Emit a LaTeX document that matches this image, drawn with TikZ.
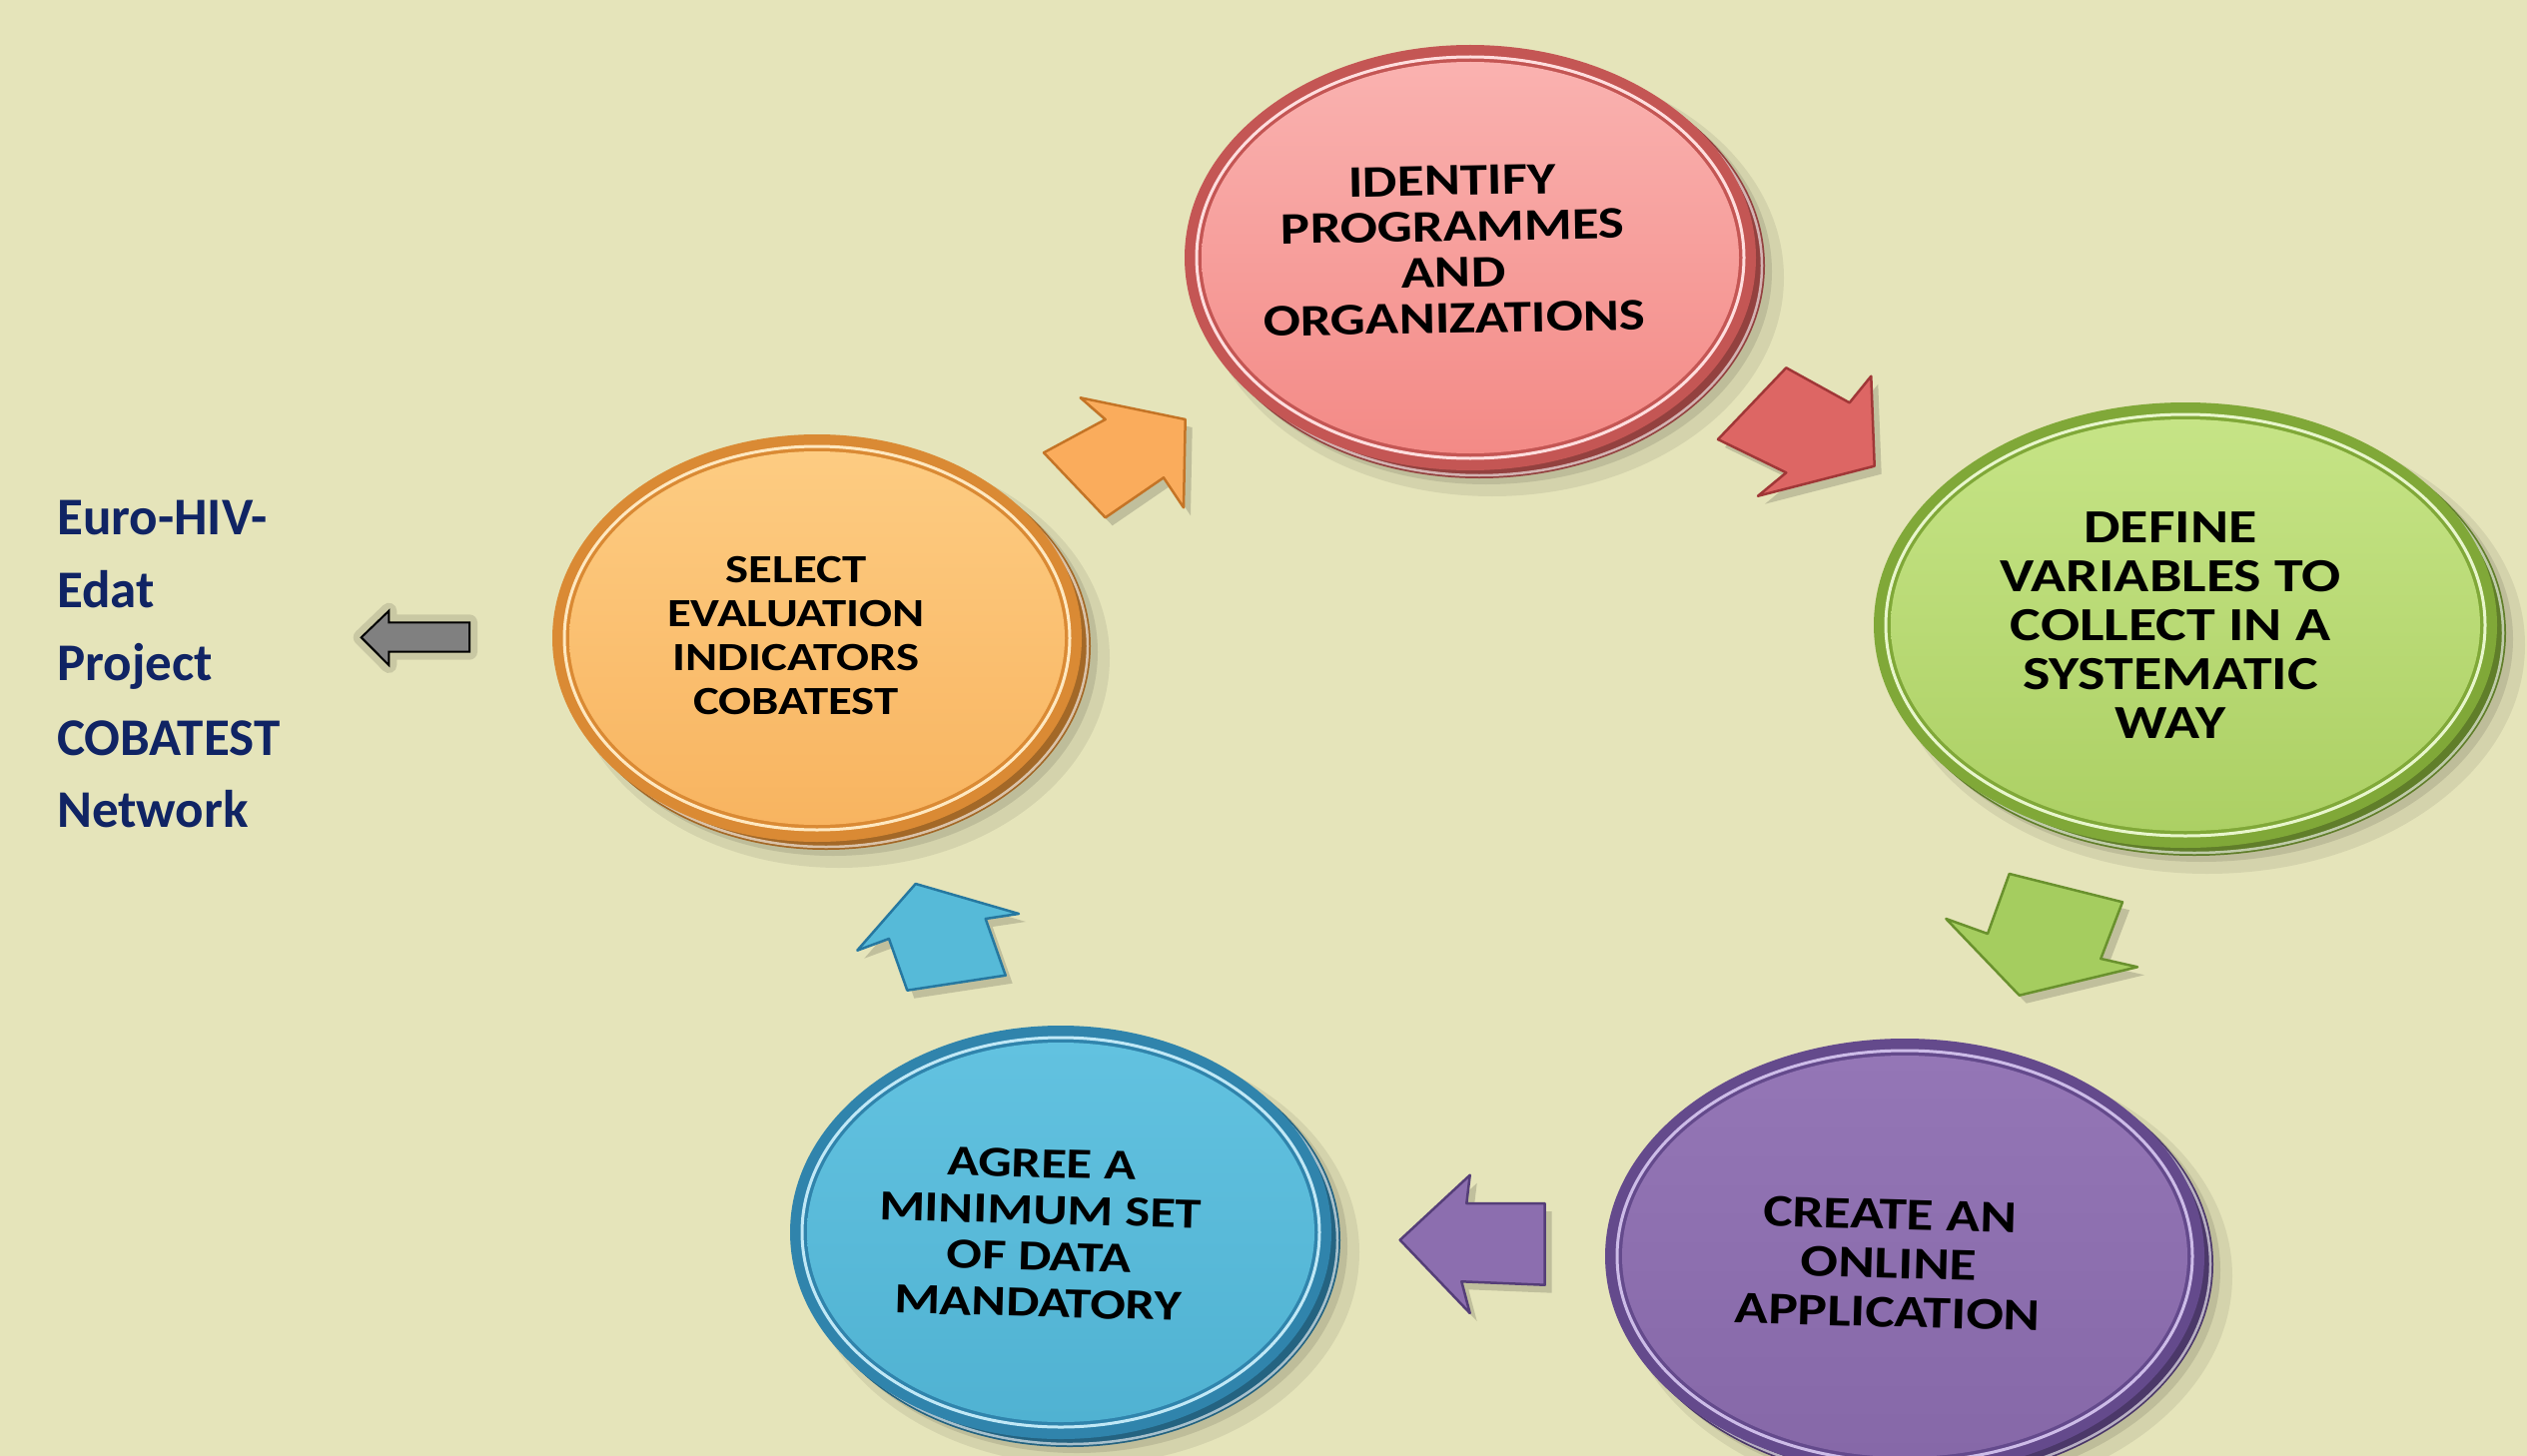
\documentclass[tikz,border=0pt]{standalone}
\usepackage{fontspec}
\setmainfont{Carlito}
\newfontfamily\circfont{Carlito}[FakeStretch=1.22]
\usetikzlibrary{shapes.geometric}
\definecolor{bg}{RGB}{229,228,186}
\definecolor{navy}{RGB}{16,36,100}
% red
\definecolor{crtop}{RGB}{250,178,176}\definecolor{crbot}{RGB}{243,138,134}
\definecolor{crrim}{RGB}{196,86,84}\definecolor{crlight}{RGB}{255,222,222}
\definecolor{crarrow}{RGB}{221,102,100}\definecolor{crarrowd}{RGB}{160,55,55}
% green
\definecolor{cgtop}{RGB}{198,228,134}\definecolor{cgbot}{RGB}{172,208,100}
\definecolor{cgrim}{RGB}{128,168,56}\definecolor{cglight}{RGB}{232,246,204}
\definecolor{cgarrow}{RGB}{165,205,95}\definecolor{cgarrowd}{RGB}{105,145,45}
% purple
\definecolor{cptop}{RGB}{148,118,182}\definecolor{cpbot}{RGB}{134,104,168}
\definecolor{cprim}{RGB}{100,74,140}\definecolor{cplight}{RGB}{205,188,232}
\definecolor{cparrow}{RGB}{140,110,175}\definecolor{cparrowd}{RGB}{85,62,120}
% blue
\definecolor{cbtop}{RGB}{98,194,224}\definecolor{cbbot}{RGB}{80,178,210}
\definecolor{cbrim}{RGB}{48,132,172}\definecolor{cblight}{RGB}{192,232,246}
\definecolor{cbarrow}{RGB}{86,186,216}\definecolor{cbarrowd}{RGB}{38,120,160}
% orange
\definecolor{cotop}{RGB}{253,204,130}\definecolor{cobot}{RGB}{248,180,96}
\definecolor{corim}{RGB}{218,138,52}\definecolor{colight}{RGB}{255,232,192}
\definecolor{coarrow}{RGB}{250,172,92}\definecolor{coarrowd}{RGB}{196,116,38}
\definecolor{grayarrow}{RGB}{128,128,128}

\tikzset{
  disctext/.style={align=center, text=black, inner sep=0pt},
  face/.style={ellipse, draw=none, inner sep=0pt},
  arrowshape/.style={line width=2.5pt, line join=round},
  arrowshadow/.style={fill=black, opacity=0.16},
  lefttext/.style={anchor=base west, inner sep=0pt, text=navy,
    font=\fontsize{53}{60}\selectfont\bfseries},
}

\newcommand{\mydisc}[5]{%
  \begin{scope}[shift={#2}]
    \fill[black,opacity=0.07] (22,20) ellipse [x radius=#3+6, y radius=#4+6];
    \fill[black,opacity=0.10] (16,14) ellipse [x radius=#3, y radius=#4];
    \fill[#5rim!75!black] (9,8) ellipse [x radius=#3, y radius=#4];
    \draw[white,opacity=0.6,line width=2.5pt] (9,8) ellipse [x radius=#3-3, y radius=#4-3];
    \fill[#5rim] (0,0) ellipse [x radius=#3, y radius=#4];
    \draw[#5light,line width=3pt] (0,0) ellipse [x radius=#3-12, y radius=#4-12];
    \node[face, minimum width={(2*#3-34)*1pt}, minimum height={(2*#4-34)*1pt},
      top color=#5top, bottom color=#5bot] (#1) at (0,0) {};
  \end{scope}}

\newcommand{\blockarrow}[3]{%
  \fill[arrowshadow, shift={(7,8)}] #3 -- cycle;
  \filldraw[fill=#1, draw=#2, arrowshape] #3 -- cycle;}

\begin{document}
\begin{tikzpicture}[x=1pt,y=-1pt]
\useasboundingbox (0,0) rectangle (2530,1458);
\clip (0,0) rectangle (2530,1458);
\fill[bg] (0,0) rectangle (2530,1458);

% discs
\mydisc{ident}{(1472,258)}{286}{213}{cr}
\mydisc{define}{(2188,626)}{312}{223}{cg}
\mydisc{create}{(1907,1258)}{300}{218}{cp}
\mydisc{agree}{(1062,1234)}{271}{207}{cb}
\mydisc{select}{(818,639)}{265}{204}{co}

% disc texts
\node[disctext, rotate=1, font=\circfont\bfseries\fontsize{45}{46}\selectfont] (identtxt) at (1455,250)
  {IDENTIFY\\PROGRAMMES\\AND\\ORGANIZATIONS};
\node[disctext, font=\circfont\bfseries\fontsize{47.5}{49}\selectfont] (definetxt) at (2173,626)
  {DEFINE\\VARIABLES TO\\COLLECT IN A\\SYSTEMATIC\\WAY};
\node[disctext, rotate=-1.5, font=\circfont\bfseries\fontsize{45.5}{49}\selectfont] (createtxt) at (1891,1265)
  {CREATE AN\\ONLINE\\APPLICATION};
\node[disctext, rotate=-1.5, font=\circfont\bfseries\fontsize{43}{46.5}\selectfont] (agreetxt) at (1041,1235)
  {AGREE A\\MINIMUM SET\\OF DATA\\MANDATORY};
\node[disctext, font=\circfont\bfseries\fontsize{40}{44}\selectfont] (selecttxt) at (797,637)
  {SELECT\\EVALUATION\\INDICATORS\\COBATEST};

% block arrows
\blockarrow{coarrow}{coarrowd}{(1081.7,398.3) -- (1186.7,420) -- (1185,508.3) -- (1165,478.3) -- (1106.7,518.3) -- (1045,453.3) -- (1106.7,420)}
\blockarrow{crarrow}{crarrowd}{(1788.3,368.3) -- (1851.7,403.3) -- (1873.3,376.7) -- (1876.7,466.7) -- (1760,496.7) -- (1788.3,473.3) -- (1720,440)}
\blockarrow{cgarrow}{cgarrowd}{(2011.7,875) -- (2125,903.3) -- (2103.3,960) -- (2140,968.3) -- (2021.7,996.7) -- (1948.3,920) -- (1990,935)}
\blockarrow{cparrow}{cparrowd}{(1401.7,1241.7) -- (1471.7,1176.7) -- (1468.3,1205) -- (1546.7,1205) -- (1546.7,1286.7) -- (1463.3,1283.3) -- (1471.7,1315)}
\blockarrow{cbarrow}{cbarrowd}{(916.7,885) -- (1020,915) -- (986.7,920) -- (1006.7,976.7) -- (908.3,991.7) -- (890,940) -- (858.3,951.7)}

% gray arrow
\draw[black, opacity=0.12, line width=16pt, line join=round]
  (361.7,638.3) -- (389.3,611.7) -- (389.3,623.3) -- (470,623.3) -- (470,652.7) -- (389.3,652.7) -- (389.3,666) -- cycle;
\filldraw[fill=grayarrow, draw=black, line width=2pt, line join=miter]
  (361.7,638.3) -- (389.3,611.7) -- (389.3,623.3) -- (470,623.3) -- (470,652.7) -- (389.3,652.7) -- (389.3,666) -- cycle;

% left text
\node[lefttext] (l1) at (57,535) {Euro-HIV-};
\node[lefttext] (l2) at (57,608) {Edat};
\node[lefttext] (l3) at (57,681) {Project};
\node[lefttext] (l4) at (57,756) {COBATEST};
\node[lefttext] (l5) at (57,828) {Network};
\end{tikzpicture}
\end{document}
